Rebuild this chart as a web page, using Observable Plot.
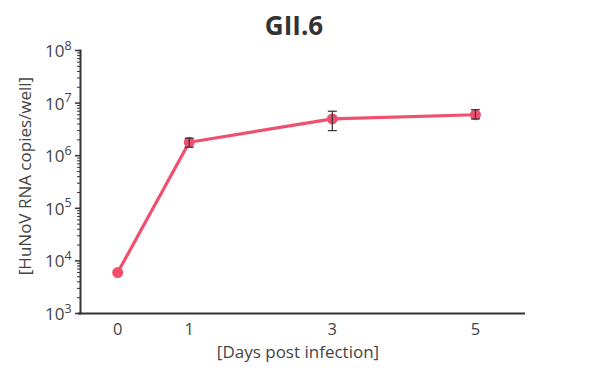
<!DOCTYPE html>
<html><head><meta charset="utf-8">
<script src="https://cdn.jsdelivr.net/npm/d3@7"></script>
<script src="https://cdn.jsdelivr.net/npm/@observablehq/plot@0.6"></script>
<style>body{margin:0;background:#fff}</style>
</head><body><div id="chart"></div>
<script>
const days = [0, 1, 3, 5];
const copies = [6.0e3, 1.8e6, 5.0e6, 6.0e6];
const errLow = [6.0e3, 1.45e6, 3.0e6, 5.0e6];
const errHigh = [6.0e3, 2.15e6, 7.0e6, 7.5e6];
const xTicks = [0, 1, 3, 5];
const yMajor = [1e3, 1e4, 1e5, 1e6, 1e7, 1e8];

const data = days.map((d, i) => ({day: d, v: copies[i], lo: errLow[i], hi: errHigh[i]}));
const errData = data.filter(d => d.hi > d.lo);
const yMinor = [];
for (let e = 3; e < 8; e++) for (let k = 2; k <= 9; k++) yMinor.push(k * 10 ** e);

const capSymbol = {draw(ctx) { ctx.moveTo(-4.5, 0); ctx.lineTo(4.5, 0); }};
const pink = "#f0506e";
const ink = "#333";
const txt = "#444";

const chart = Plot.plot({
  width: 592, height: 376,
  marginTop: 50, marginBottom: 63, marginLeft: 80, marginRight: 67,
  style: {fontFamily: "'Open Sans', sans-serif", background: "#fff", fontSize: "16px"},
  x: {domain: [-0.52, 5.7]},
  y: {type: "log", domain: [1e3, 1e8]},
  marks: [
    Plot.axisY({ticks: yMinor, tickSize: 3, tickFormat: () => "", stroke: ink, strokeWidth: 1, label: null}),
    Plot.axisY({ticks: yMajor, tickSize: 5, stroke: ink, strokeWidth: 1.5, tickFormat: () => "", label: null}),
    Plot.text(yMajor, {y: d => d, frameAnchor: "left", text: () => "10", textAnchor: "end", lineAnchor: "middle", dx: -16, dy: 1, fontSize: 17, fill: txt}),
    Plot.text(yMajor, {y: d => d, frameAnchor: "left", text: d => String(Math.round(Math.log10(d))), textAnchor: "start", lineAnchor: "middle", dx: -16, dy: -5, fontSize: 12.5, fill: txt}),
    Plot.axisX({ticks: xTicks, tickSize: 0, tickFormat: () => "", label: null}),
    Plot.text(xTicks, {x: d => d, frameAnchor: "bottom", text: d => String(d), lineAnchor: "middle", dy: 16, fontSize: 16.5, fill: txt}),
    Plot.frame({anchor: "left", stroke: ink, strokeWidth: 2}),
    Plot.ruleY([1e3], {stroke: ink, strokeWidth: 2, insetLeft: -2}),
    Plot.line(data, {x: "day", y: "v", stroke: pink, strokeWidth: 3.2}),
    Plot.dot(data, {x: "day", y: "v", r: 5.5, fill: pink, stroke: "none"}),
    Plot.ruleX(errData, {x: "day", y1: "lo", y2: "hi", stroke: ink, strokeWidth: 1.2}),
    Plot.dot(errData, {x: "day", y: "hi", symbol: capSymbol, r: 3, stroke: ink, strokeWidth: 1.2, fill: "none"}),
    Plot.dot(errData, {x: "day", y: "lo", symbol: capSymbol, r: 3, stroke: ink, strokeWidth: 1.2, fill: "none"}),
    Plot.text(["GII.6"], {frameAnchor: "top", lineAnchor: "middle", dy: -24, dx: -9, fontSize: 26, fontWeight: "bold", fill: ink}),
    Plot.text(["[Days post infection]"], {frameAnchor: "bottom", lineAnchor: "middle", dy: 39, dx: -5, fontSize: 17, fill: txt}),
    Plot.text(["[HuNoV RNA copies/well]"], {frameAnchor: "left", dx: -55, dy: -6, rotate: -90, textAnchor: "middle", lineAnchor: "middle", fontSize: 17, fill: txt})
  ]
});
document.getElementById("chart").appendChild(chart);
</script>
</body></html>
